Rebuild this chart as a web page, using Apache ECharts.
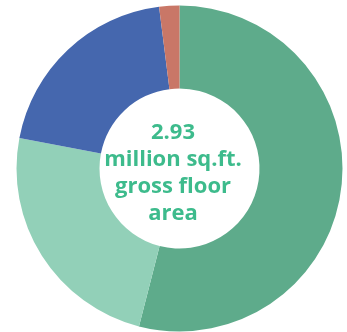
<!DOCTYPE html>
<html><head><meta charset="utf-8">
<script src="https://cdn.jsdelivr.net/npm/echarts@6/dist/echarts.min.js"></script>
<style>html,body{margin:0;padding:0;background:#fff}#c{width:347px;height:332px}</style>
</head><body><div id="c"></div>
<script>
const categories = ['Segment A', 'Segment B', 'Segment C', 'Segment D'];
const values = [54, 24, 20, 2];
const colors = ['#5eab8b', '#92d0b8', '#4567ae', '#c97767'];
const centerLines = ['2.93', 'million sq.ft.', 'gross floor', 'area'];

const chart = echarts.init(document.getElementById('c'), null, {renderer: 'canvas'});
chart.setOption({
  animation: false,
  backgroundColor: '#ffffff',
  series: [{
    type: 'pie',
    center: [179.5, 168.5],
    radius: [80, 163],
    startAngle: 90,
    clockwise: true,
    label: {show: false},
    labelLine: {show: false},
    emphasis: {disabled: true},
    itemStyle: {borderWidth: 0},
    data: categories.map((c, i) => ({name: c, value: values[i], itemStyle: {color: colors[i]}}))
  }],
  graphic: [{
    type: 'text',
    style: {
      text: centerLines.join('\n'),
      x: 173, y: 173,
      align: 'center',
      verticalAlign: 'middle',
      fill: '#3dbb8c',
      font: 'bold 22px "Open Sans", sans-serif',
      lineHeight: 27
    }
  }]
});
</script></body></html>
